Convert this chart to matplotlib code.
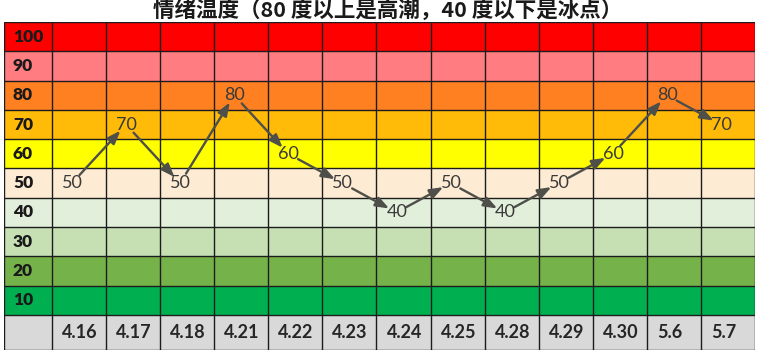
import matplotlib
matplotlib.use("Agg")
import matplotlib.pyplot as plt

# data
dates = ["4.16", "4.17", "4.18", "4.21", "4.22", "4.23", "4.24",
         "4.25", "4.28", "4.29", "4.30", "5.6", "5.7"]
temps = [50, 70, 50, 80, 60, 50, 40, 50, 40, 50, 60, 80, 70]
levels = [100, 90, 80, 70, 60, 50, 40, 30, 20, 10]
level_colors = ["#FF0000", "#FF7C80", "#FF8021", "#FFBB08", "#FFFF00",
                "#FDEBD3", "#E2EFDA", "#C6E0B4", "#76B24A", "#00B050"]
title = "情绪温度（80 度以上是高潮，40 度以下是冰点）"

plt.rcParams['font.family'] = ['Lato', 'DejaVu Sans']

W, H = 760, 358
fig = plt.figure(figsize=(W / 100, H / 100), dpi=100)
left_px, right_px, top_px, bot_px = 4, 755, 22, 350
ax = fig.add_axes([left_px / W, 1 - bot_px / H,
                   (right_px - left_px) / W, (bot_px - top_px) / H])

n = len(dates)
col_px = (right_px - 52) / n          # date column width in px
lab_w = (52 - left_px) / col_px       # label column width in data units
row_h = 10
date_h = 35 / ((315 - top_px) / len(levels)) * row_h

x0 = -lab_w
y_top = levels[0] + row_h / 2
y_bot = levels[-1] - row_h / 2 - date_h

# colour bands
ax.barh(levels, n + lab_w, height=row_h, left=x0, color=level_colors, zorder=0)
ax.barh(levels[-1] - row_h / 2 - date_h / 2, n + lab_w, height=date_h, left=x0,
        color="#D9D9D9", zorder=0)

# grid lines
grid_col = "#1c1c1c"
ax.vlines([x0] + list(range(n + 1)), y_bot, y_top, color=grid_col, lw=1, zorder=1)
hl = [l + row_h / 2 for l in levels] + [levels[-1] - row_h / 2, y_bot]
ax.hlines(hl, x0, n, color=grid_col, lw=1, zorder=1)

pad = 10 / col_px
# row labels
for lv in levels:
    ax.text(x0 + 9 / col_px, lv, str(lv), ha="left", va="center",
            fontsize=12.5, fontweight="heavy", color="#1a1a1a")
# date labels
for i, d in enumerate(dates):
    ax.text(i + pad, levels[-1] - row_h / 2 - date_h / 2, d, ha="left",
            va="center", fontsize=13, fontweight="bold", color="#262626")

# value labels
for i, v in enumerate(temps):
    ax.text(i + pad, v, str(v), ha="left", va="center", fontsize=13,
            color="#3a3a3a", zorder=3)

# arrows between labels
cx = [i + pad + 10 / col_px for i in range(n)]
for i in range(n - 1):
    ax.annotate("", xy=(cx[i + 1], temps[i + 1]), xytext=(cx[i], temps[i]),
                arrowprops=dict(arrowstyle="-|>,head_length=0.8,head_width=0.3",
                                color="#4f4f4a", lw=1.7,
                                shrinkA=8, shrinkB=6), zorder=2)

ax.set_xlim(x0, n)
ax.set_ylim(y_bot, y_top)
ax.axis("off")

fig.text(388 / W, 1 - 10 / H, title, ha="center", va="center", fontsize=15.5,
         fontweight="bold", family=["Noto Sans CJK SC", "DejaVu Sans"],
         color="#1a1a1a")

fig.savefig("out.png", dpi=100)
